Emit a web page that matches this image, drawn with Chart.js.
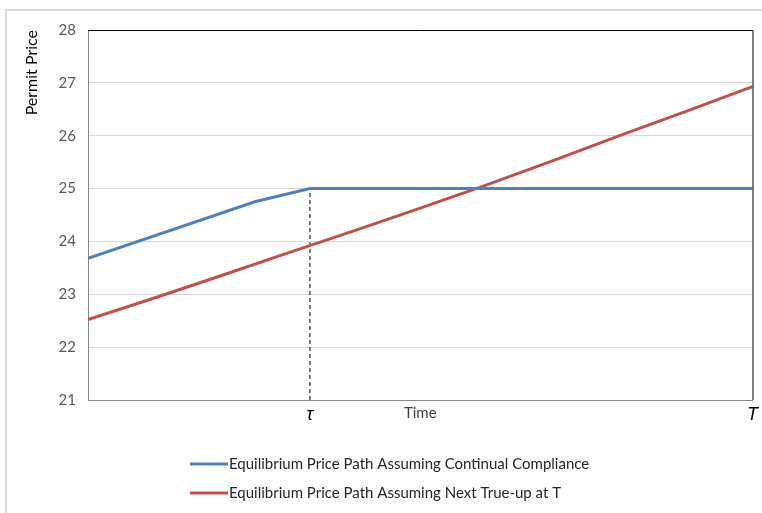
<!DOCTYPE html>
<html>
<head>
<meta charset="utf-8">
<script src="https://cdn.jsdelivr.net/npm/chart.js@4.4.0/dist/chart.umd.min.js"></script>
<style>
  html, body { margin: 0; padding: 0; background: #fff; }
  #wrap { position: relative; width: 762px; height: 513px; }
</style>
</head>
<body>
<div id="wrap"><canvas id="priceChart"></canvas></div>
<script>
// time runs from 0 to T (=100); tau is the kink point
const TAU = 33.4;
const blueTimes = [0, 25.1, TAU, 100];
const blueValues = [23.68, 24.75, 25.0, 25.0];
const redTimes = [0, 10, 20, 30, 40, 50, 60, 70, 80, 90, 100];
const redValues = [22.52, 22.93, 23.35, 23.78, 24.2, 24.63, 25.07, 25.53, 26.0, 26.46, 26.93];
const guideTimes = [TAU, TAU];
const guideValues = [21, 25];
const tickValues = [TAU, 50, 100];
const tickLabels = ["\u03C4", "Time", "T"];
const seriesNames = [
  "Equilibrium Price Path Assuming Continual Compliance",
  "Equilibrium Price Path Assuming Next True-up at T"
];

const toPoints = (xs, ys) => xs.map((x, i) => ({ x: x, y: ys[i] }));

// frame, top/right border of plot and a stacked legend
const extras = {
  id: "extras",
  beforeDraw(chart) {
    const ctx = chart.ctx;
    ctx.save();
    ctx.fillStyle = "#fff";
    ctx.fillRect(0, 0, chart.width, chart.height);
    ctx.strokeStyle = "#d9d9d9";
    ctx.lineWidth = 2;
    ctx.beginPath();
    ctx.moveTo(6, chart.height);
    ctx.lineTo(6, 10);
    ctx.lineTo(chart.width, 10);
    ctx.stroke();
    ctx.restore();
  },
  afterDraw(chart) {
    const ctx = chart.ctx;
    const a = chart.chartArea;
    ctx.save();
    ctx.strokeStyle = "#000";
    ctx.lineWidth = 1;
    ctx.beginPath();
    ctx.moveTo(a.left, a.top + 0.5);
    ctx.lineTo(a.right + 0.5, a.top + 0.5);
    ctx.lineTo(a.right + 0.5, a.bottom);
    ctx.stroke();

    ctx.font = "15px Lato";
    ctx.fillStyle = "#262626";
    ctx.textBaseline = "middle";
    const ys = [464, 493];
    [0, 1].forEach(i => {
      const ds = chart.data.datasets[i];
      ctx.strokeStyle = ds.borderColor;
      ctx.lineWidth = 3;
      ctx.beginPath();
      ctx.moveTo(190, ys[i]);
      ctx.lineTo(228, ys[i]);
      ctx.stroke();
      ctx.fillText(ds.label, 229, ys[i]);
    });
    ctx.restore();
  }
};

new Chart(document.getElementById("priceChart"), {
  type: "line",
  data: {
    datasets: [
      {
        label: seriesNames[0],
        data: toPoints(blueTimes, blueValues),
        borderColor: "#4f81bd",
        borderWidth: 3,
        pointRadius: 0,
        tension: 0
      },
      {
        label: seriesNames[1],
        data: toPoints(redTimes, redValues),
        borderColor: "#c0504d",
        borderWidth: 3,
        pointRadius: 0,
        tension: 0
      },
      {
        label: "tau",
        data: toPoints(guideTimes, guideValues),
        borderColor: "#000",
        borderWidth: 1,
        borderDash: [4, 3],
        pointRadius: 0
      }
    ]
  },
  options: {
    responsive: true,
    maintainAspectRatio: false,
    animation: false,
    layout: { padding: { top: 30, right: 9, bottom: 82, left: 0 } },
    plugins: {
      legend: { display: false },
      tooltip: { enabled: false }
    },
    scales: {
      x: {
        type: "linear",
        min: 0,
        max: 100,
        grid: { display: false, drawTicks: false },
        border: { display: true, color: "#868686", width: 1 },
        afterBuildTicks: scale => {
          scale.ticks = tickValues.map(v => ({ value: v }));
        },
        afterFit: scale => { scale.height = 31; },
        ticks: {
          autoSkip: false,
          maxRotation: 0,
          padding: 4,
          color: (c) => (c.index === 1 ? "#404040" : "#000"),
          font: (c) => (c.index === 1
            ? { family: "Lato", size: 15 }
            : { family: "Liberation Sans", size: 18, style: "italic" }),
          callback: (value, i) => tickLabels[i]
        }
      },
      y: {
        min: 21,
        max: 28,
        afterFit: scale => { scale.width = 88; },
        grid: { color: "#d9d9d9", drawTicks: false },
        border: { display: true, color: "#868686", width: 1 },
        ticks: {
          stepSize: 1,
          padding: 12,
          color: "#595959",
          font: { family: "Lato", size: 15 }
        },
        title: {
          display: true,
          text: "Permit Price",
          align: "end",
          color: "#000",
          font: { family: "Lato", size: 16 },
          padding: { top: 22, bottom: 0 }
        }
      }
    }
  },
  plugins: [extras]
});
</script>
</body>
</html>
